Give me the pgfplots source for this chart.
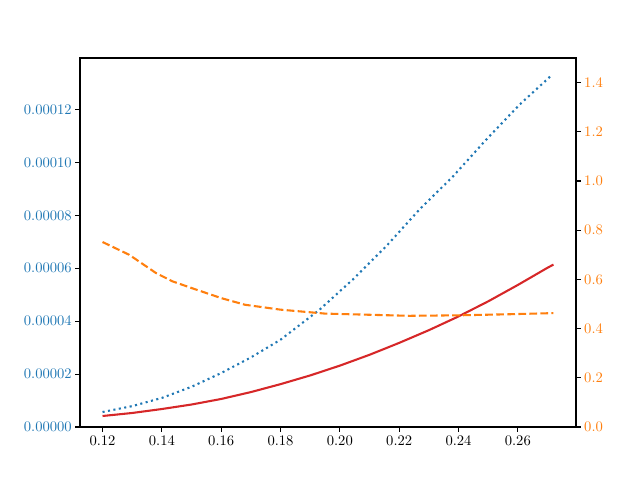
\documentclass[border=0pt]{standalone}
\usepackage{pgfplots}
\pgfplotsset{compat=1.18}
\definecolor{mblue}{HTML}{1F77B4}
\definecolor{morange}{HTML}{FF7F0E}
\definecolor{mred}{HTML}{D62728}
\begin{document}
\begin{tikzpicture}[x=1pt,y=1pt]
\useasboundingbox (0,0) rectangle (480,360);
\pgfplotsset{
  common/.style={
    at={(60pt,39.75pt)}, anchor=south west,
    scale only axis, width=372pt, height=276.75pt,
    xmin=0.1124, xmax=0.2796,
    tick align=outside, major tick length=3.65pt,
    every tick/.style={line width=0.83pt, black},
    axis line style={line width=0.83pt},
    ticklabel style={font=\fontsize{10.9}{13}\selectfont},
    scaled ticks=false,
  }
}
\begin{axis}[common,
  ymin=0, ymax=0.0001395,
  tick pos=left,
  xtick={0.12,0.14,0.16,0.18,0.20,0.22,0.24,0.26},
  xticklabel style={/pgf/number format/fixed, /pgf/number format/precision=2, /pgf/number format/fixed zerofill},
  ytick={0,0.00002,0.00004,0.00006,0.00008,0.0001,0.00012},
  yticklabel style={text=mblue, /pgf/number format/fixed, /pgf/number format/precision=5, /pgf/number format/fixed zerofill, xshift=1pt},
]
\addplot[mblue, line width=1.56pt, line cap=butt, dash pattern=on 1.56pt off 2.58pt] coordinates {
(0.120,5.67e-6) (0.130,7.9e-6) (0.140,1.10e-5) (0.150,1.52e-5) (0.160,2.04e-5) (0.170,2.63e-5) (0.180,3.30e-5)
(0.1931,4.43e-5) (0.2043,5.57e-5) (0.2156,6.83e-5) (0.2268,8.22e-5) (0.2381,9.47e-5)
(0.2493,1.086e-4) (0.2606,1.219e-4) (0.2716,1.332e-4)
};
\addplot[mred, line width=1.56pt] coordinates {
(0.120,4.16e-6) (0.130,5.3e-6) (0.140,6.8e-6) (0.150,8.5e-6) (0.160,1.06e-5) (0.170,1.32e-5) (0.180,1.62e-5)
(0.190,1.95e-5) (0.200,2.32e-5) (0.210,2.73e-5) (0.220,3.18e-5) (0.230,3.66e-5) (0.240,4.18e-5)
(0.250,4.75e-5) (0.260,5.37e-5) (0.270,6.02e-5) (0.272,6.14e-5)
};
\end{axis}
\begin{axis}[common,
  ymin=0, ymax=1.5,
  hide x axis,
  axis y line*=right,
  ytick pos=right,
  ytick={0,0.2,0.4,0.6,0.8,1.0,1.2,1.4},
  yticklabel style={text=morange, /pgf/number format/fixed, /pgf/number format/precision=1, /pgf/number format/fixed zerofill, xshift=-1pt},
]
\addplot[morange, line width=1.56pt, line cap=butt, dash pattern=on 5.78pt off 2.5pt] coordinates {
(0.120,0.752) (0.129,0.700) (0.138,0.626) (0.1436,0.592) (0.150,0.565) (0.160,0.524) (0.168,0.497)
(0.180,0.477) (0.195,0.461) (0.2234,0.452) (0.240,0.454) (0.256,0.458) (0.272,0.463)
};
\end{axis}
\end{tikzpicture}
\end{document}
